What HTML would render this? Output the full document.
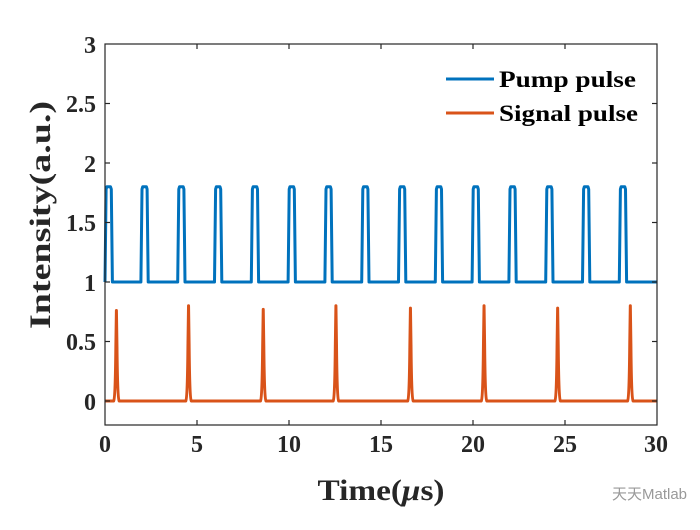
<!DOCTYPE html>
<html><head><style>body{margin:0;background:#fff}</style></head><body>
<svg width="700" height="525" xmlns="http://www.w3.org/2000/svg" font-family="Liberation Serif, serif" font-weight="bold">
<rect width="700" height="525" fill="#fff"/>
<g id="plot"></g>
<rect x="105" y="44" width="552" height="381" fill="none" stroke="#262626" stroke-width="1.2"/>
<g stroke="#262626" stroke-width="1.2">
<line x1="105" y1="401" x2="110" y2="401"/><line x1="105" y1="341.5" x2="110" y2="341.5"/><line x1="105" y1="282" x2="110" y2="282"/><line x1="105" y1="222.5" x2="110" y2="222.5"/><line x1="105" y1="163" x2="110" y2="163"/><line x1="105" y1="103.5" x2="110" y2="103.5"/>
<line x1="657" y1="401" x2="652" y2="401"/><line x1="657" y1="341.5" x2="652" y2="341.5"/><line x1="657" y1="282" x2="652" y2="282"/><line x1="657" y1="222.5" x2="652" y2="222.5"/><line x1="657" y1="163" x2="652" y2="163"/><line x1="657" y1="103.5" x2="652" y2="103.5"/>
<line x1="197" y1="425" x2="197" y2="420"/><line x1="289" y1="425" x2="289" y2="420"/><line x1="381" y1="425" x2="381" y2="420"/><line x1="473" y1="425" x2="473" y2="420"/><line x1="565" y1="425" x2="565" y2="420"/>
<line x1="197" y1="44" x2="197" y2="49"/><line x1="289" y1="44" x2="289" y2="49"/><line x1="381" y1="44" x2="381" y2="49"/><line x1="473" y1="44" x2="473" y2="49"/><line x1="565" y1="44" x2="565" y2="49"/>
</g>
<g font-size="24" fill="#262626" text-anchor="end">
<text x="96" y="410">0</text><text x="96" y="350">0.5</text><text x="96" y="291">1</text><text x="96" y="231">1.5</text><text x="96" y="172">2</text><text x="96" y="112">2.5</text><text x="96" y="53">3</text>
</g>
<g font-size="24" fill="#262626" text-anchor="middle">
<text x="105" y="452">0</text><text x="197" y="452">5</text><text x="289" y="452">10</text><text x="381" y="452">15</text><text x="473" y="452">20</text><text x="565" y="452">25</text><text x="656" y="452">30</text>
</g>
<text x="381" y="500" font-size="30" text-anchor="middle" fill="#262626" textLength="127" lengthAdjust="spacingAndGlyphs">Time(<tspan font-style="italic">μ</tspan>s)</text>
<text transform="translate(50,215) rotate(-90)" font-size="30" text-anchor="middle" fill="#262626" textLength="228" lengthAdjust="spacingAndGlyphs">Intensity(a.u.)</text>
<line x1="446" y1="79" x2="494" y2="79" stroke="#0072BD" stroke-width="3"/>
<text x="499" y="87" font-size="23" fill="#000" textLength="137" lengthAdjust="spacingAndGlyphs">Pump pulse</text>
<line x1="446" y1="113" x2="494" y2="113" stroke="#D95319" stroke-width="3"/>
<text x="499" y="121" font-size="23" fill="#000" textLength="139" lengthAdjust="spacingAndGlyphs">Signal pulse</text>
<text x="612" y="499" font-size="15" font-weight="normal" fill="#999" font-family="Liberation Sans, Noto Sans CJK SC, sans-serif">天天Matlab</text>
<script>
var g=document.getElementById('plot');
function X(t){return 105+t*18.4}function Y(v){return 401-v*119}
var p=[];
for(var k=0;k<15;k++){var s=2*k-0.05;if(k==0)s=0;
p.push([X(s),Y(1)],[X(s+0.06),Y(1.78)],[X(s+0.1),Y(1.8)],[X(s+0.3),Y(1.8)],[X(s+0.34),Y(1.78)],[X(s+0.4),Y(1)]);}
p.push([X(30),Y(1)]);
var d='M'+X(0)+','+Y(1.0);p.forEach(function(q){d+=' L'+q[0].toFixed(1)+','+q[1].toFixed(1)});
var pa=document.createElementNS('http://www.w3.org/2000/svg','path');pa.setAttribute('d',d);pa.setAttribute('fill','none');pa.setAttribute('stroke','#0072BD');pa.setAttribute('stroke-width','3');pa.setAttribute('stroke-linejoin','round');g.appendChild(pa);
var c=[0.62,4.54,8.6,12.55,16.6,20.6,24.6,28.55],h=[0.76,0.8,0.77,0.8,0.78,0.8,0.78,0.8];
var d2='M'+X(0)+','+Y(0);
c.forEach(function(t,i){d2+=' L'+X(t-0.15)+','+Y(0)+' Q'+X(t-0.06)+','+Y(0.02)+' '+X(t-0.03)+','+Y(h[i]*0.6)+' L'+X(t)+','+Y(h[i])+' L'+X(t+0.03)+','+Y(h[i]*0.6)+' Q'+X(t+0.06)+','+Y(0.02)+' '+X(t+0.15)+','+Y(0);});
d2+=' L'+X(30)+','+Y(0);
var pb=document.createElementNS('http://www.w3.org/2000/svg','path');pb.setAttribute('d',d2);pb.setAttribute('fill','none');pb.setAttribute('stroke','#D95319');pb.setAttribute('stroke-width','3');pb.setAttribute('stroke-linejoin','round');g.appendChild(pb);
</script>
</svg>
</body></html>
